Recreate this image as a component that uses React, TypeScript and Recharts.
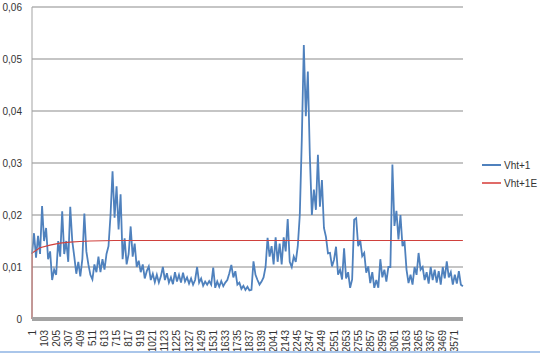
import React from "react"
import { LineChart, Line, XAxis, YAxis, CartesianGrid } from "recharts"

// Vht+1: one reading every 17 observations (alternating upper / lower edge of the noisy band)
const blueStep = 17
const vht1 = [
  0.0125, 0.0165, 0.0118, 0.016, 0.0125, 0.0217, 0.015, 0.0175, 0.0115, 0.013,
  0.0075, 0.0095, 0.0085, 0.015, 0.012, 0.0207, 0.0125, 0.015, 0.011, 0.0216,
  0.015, 0.012, 0.0087, 0.011, 0.0082, 0.0115, 0.0203, 0.013, 0.0105, 0.0085,
  0.0076, 0.0105, 0.009, 0.012, 0.009, 0.0115, 0.0095, 0.0125, 0.014, 0.02,
  0.0284, 0.0195, 0.0255, 0.0172, 0.024, 0.0115, 0.0155, 0.0105, 0.0125, 0.0178,
  0.012, 0.0145, 0.01, 0.0112, 0.009, 0.0105, 0.0078, 0.0092, 0.0101, 0.0075,
  0.0087, 0.0071, 0.0085, 0.007, 0.0082, 0.01, 0.0075, 0.0088, 0.007, 0.008,
  0.0067, 0.009, 0.0072, 0.0085, 0.007, 0.0089, 0.0072, 0.008, 0.0068, 0.0078,
  0.0066, 0.0075, 0.01, 0.007, 0.0078, 0.0064, 0.0072, 0.0066, 0.0073, 0.0066,
  0.0099, 0.006, 0.0072, 0.0062, 0.0073, 0.0063, 0.007, 0.0075, 0.0088, 0.0104,
  0.008, 0.0092, 0.0066, 0.007, 0.0058, 0.0064, 0.0056, 0.0062, 0.0055, 0.0056,
  0.0111, 0.0085, 0.0075, 0.0066, 0.0072, 0.008, 0.01, 0.0156, 0.012, 0.014,
  0.0105, 0.0157, 0.011, 0.0145, 0.0105, 0.0157, 0.013, 0.0192, 0.011, 0.01,
  0.012, 0.011, 0.014, 0.02, 0.0345, 0.0527, 0.039, 0.0476, 0.0313, 0.02,
  0.0249, 0.021, 0.0316, 0.0216, 0.0267, 0.0175, 0.0158, 0.0126, 0.0127, 0.0101,
  0.0114, 0.0139, 0.0085, 0.0095, 0.0076, 0.0136, 0.0078, 0.009, 0.006, 0.0076,
  0.0191, 0.0194, 0.014, 0.0152, 0.0121, 0.0127, 0.0089, 0.0101, 0.0069, 0.009,
  0.006, 0.0075, 0.006, 0.0115, 0.008, 0.0095, 0.0072, 0.01, 0.01, 0.0297,
  0.0179, 0.0208, 0.0153, 0.02, 0.014, 0.015, 0.0095, 0.0069, 0.0085, 0.0066,
  0.01, 0.0085, 0.0127, 0.0095, 0.01, 0.0075, 0.009, 0.0068, 0.01, 0.0075,
  0.0095, 0.007, 0.0092, 0.0066, 0.01, 0.0078, 0.0111, 0.008, 0.009, 0.0066,
  0.0085, 0.0068, 0.0092, 0.0066, 0.0063,
]

// Vht+1E
const vht1eObs = [1, 2, 68, 153, 237, 322, 406, 490, 700, 3639]
const vht1eVals = [0, 0.0127, 0.0137, 0.0142, 0.0146, 0.0148, 0.0149, 0.015, 0.0151, 0.0151]

const yTicks = [0, 0.01, 0.02, 0.03, 0.04, 0.05, 0.06]
const xTicks = [
  1, 103, 205, 307, 409, 511, 613, 715, 817, 919, 1021, 1123, 1225, 1327, 1429, 1531, 1633, 1735,
  1837, 1939, 2041, 2143, 2245, 2347, 2449, 2551, 2653, 2755, 2857, 2959, 3061, 3163, 3265, 3367,
  3469, 3571,
]

// one table keyed by observation number, each series filled only where it was read
const rows = new Map<number, { x: number; vht?: number; vhte?: number }>()
vht1.forEach((v, i) => {
  const x = 1 + i * blueStep
  rows.set(x, { ...(rows.get(x) || { x }), vht: v })
})
vht1eObs.forEach((x, i) => {
  rows.set(x, { ...(rows.get(x) || { x }), vhte: vht1eVals[i] })
})
const chartData = [...rows.values()].sort((a, b) => a.x - b.x)

const BLUE = "#4f81bd"
const RED = "#d0413d"
const FONT = "'Liberation Sans', Arial, sans-serif"

const XTick = ({ x, y, payload }: any) => (
  <text
    x={x}
    y={y + 9}
    transform={`rotate(-90 ${x} ${y + 9})`}
    textAnchor="end"
    dominantBaseline="central"
    fontSize={10}
    fontFamily={FONT}
    fill="#333"
  >
    {payload.value}
  </text>
)

const legendItems = [
  { name: "Vht+1", color: BLUE },
  { name: "Vht+1E", color: "#e06b68" },
]

export default function App() {
  return (
    <div style={{ position: "absolute", left: 0, top: 0, width: 540, height: 355, background: "#fff" }}>
      <LineChart width={540} height={355} data={chartData} margin={{ top: 7, right: 77, left: 0, bottom: 0 }}>
        <CartesianGrid vertical={false} stroke="#8c8c8c" strokeWidth={1.2} />
        <XAxis
          dataKey="x"
          type="number"
          domain={[1, 3640]}
          ticks={xTicks}
          interval={0}
          height={36}
          tick={<XTick />}
          tickLine={false}
          tickSize={0}
          axisLine={{ stroke: "#a3a3a3", strokeWidth: 4 }}
        />
        <YAxis
          type="number"
          domain={[0, 0.06]}
          ticks={yTicks}
          width={32}
          tickLine={false}
          tickSize={0}
          tickMargin={10}
          axisLine={{ stroke: "#a3a3a3" }}
          tickFormatter={(v: number) => (v === 0 ? "0" : v.toFixed(2).replace(".", ","))}
          tick={{ fontSize: 10, fontFamily: FONT, fill: "#333" }}
        />
        <Line
          dataKey="vht"
          name="Vht+1"
          stroke={BLUE}
          strokeWidth={1.8}
          dot={false}
          connectNulls
          isAnimationActive={false}
        />
        <Line
          dataKey="vhte"
          name="Vht+1E"
          stroke={RED}
          strokeWidth={1.2}
          dot={false}
          connectNulls
          isAnimationActive={false}
        />
      </LineChart>
      <div style={{ position: "absolute", left: 482, top: 156, fontFamily: FONT, fontSize: 10, color: "#333" }}>
        {legendItems.map((it) => (
          <div key={it.name} style={{ display: "flex", alignItems: "center", height: 18 }}>
            <span style={{ display: "inline-block", width: 19, height: 2, background: it.color, marginRight: 3 }} />
            <span>{it.name}</span>
          </div>
        ))}
      </div>
      <div style={{ position: "absolute", left: 0, top: 351, width: 540, height: 2, background: "#aac6ea" }} />
    </div>
  )
}
